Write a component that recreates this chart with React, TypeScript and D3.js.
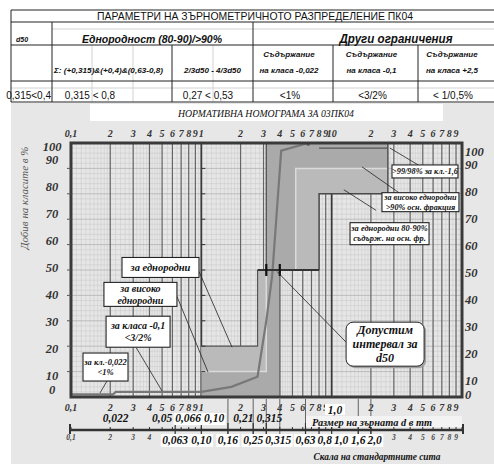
import * as d3 from "d3";
import { useEffect, useRef } from "react";

const W = 494;
const H = 464;

// ---- table ----
const tableTitle = "ПАРАМЕТРИ НА ЗЪРНОМЕТРИЧНОТО РАЗПРЕДЕЛЕНИЕ  ПК04";
const headD50 = "d50";
const headUniform = "Еднородност (80-90)/>90%";
const headOther = "Други ограничения";
const subHeads = [
  [],
  ["Σ: (+0,315)&(+0,4)&(0,63-0,8)"],
  ["2/3d50 - 4/3d50"],
  ["Съдържание", "на класа -0,022"],
  ["Съдържание", "на класа -0,1"],
  ["Съдържание", "на класа +2,5"],
];
const rowValues = ["0,315<0,4", "0,315 < 0,8", "0,27 < 0,53", "<1%", "<3/2%", "< 1/0,5%"];

// ---- nomogram ----
const chartTitle = "НОРМАТИВНА НОМОГРАМА ЗА  03ПК04";
const yTitle = "Добив на класите в %";
const xTitle = "Размер на зърната  d  в mm";
const sieveTitle = "Скала на стандартните сита";

const yTicks = [0, 10, 20, 30, 40, 50, 60, 70, 80, 90, 100];
const decadeLabels = [
  "0,1", "2", "3", "4", "5", "6", "7", "8", "9",
  "1", "2", "3", "4", "5", "6", "7", "8", "9",
  "10", "2", "3", "4", "5", "6", "7", "8", "9",
];
const sizeMarks = [0.022, 0.05, 0.066, 0.1, 0.21, 0.315];
const sizeMarkLabels = ["0,022", "0,05", "0,066", "0,10", "0,21", "0,315"];
const sieves = [0.063, 0.1, 0.16, 0.25, 0.315, 0.63, 0.8, 1.0, 1.6, 2.0];
const sieveLabels = ["0,063", "0,10", "0,16", "0,25", "0,315", "0,63", "0,8", "1,0", "1,6", "2,0"];
const sieveLong = [0.16, 0.25, 0.315, 0.4, 0.63, 1.6, 2.0];

// grading curve: size (mm) / passing (%)
const curveSize = [0.01, 0.021, 0.022, 0.1, 0.17, 0.27, 0.315, 0.35, 0.41, 0.66];
const curvePass = [1, 1, 2, 2, 4, 8, 30, 48, 97, 100];

// envelope zones [mm, %]
const upperZone = [[0.315, 100], [2.7, 100], [2.7, 80], [0.8, 80], [0.8, 50], [0.315, 50]];
const upperInner = [[0.53, 90], [2.7, 90], [2.7, 80], [0.8, 80], [0.8, 50], [0.53, 50]];
const lowerZone = [[0.1, 0], [0.4, 0], [0.4, 50], [0.27, 50], [0.27, 20], [0.1, 20]];
const lowerInner = [[0.1, 10], [0.315, 10], [0.315, 50], [0.27, 50], [0.27, 20], [0.1, 20]];
const d50Range = [0.27, 0.8];
const d50Marks = [0.315, 0.4];

const callouts = [
  { lines: ["за еднородни"], at: [0.0486, 51], w: 77, h: 20, fs: 10.5, from: [0.096, 49.4], to: [0.172, 19.6] },
  { lines: ["за високо", "еднородни"], at: [0.0341, 40.4], w: 73, h: 24, fs: 10, from: [0.065, 39.6], to: [0.1125, 9.8] },
  { lines: ["за класа -0,1", "<3/2%"], at: [0.0327, 25.7], w: 64, h: 31, fs: 10, from: [0.0315, 19.6], to: [0.0499, 2.4] },
  { lines: ["за кл.-0,022", "<1%"], at: [0.0184, 11.8], w: 45, h: 28, fs: 8.5, from: [0.0189, 6.3], to: [0.0167, 1.6] },
  { lines: [">99/98% за кл.-1,6"], at: [5.2, 88.8], w: 66, h: 13, fs: 8.3, from: [4.6, 91.4], to: [2.8, 98] },
  { lines: ["за високо еднородни", ">90% осн. фракция"], at: [4.8, 76.7], w: 77, h: 19, fs: 8.2, from: [3.29, 80.4], to: [1.71, 90.6] },
  { lines: ["за еднородни 80-90%", "съдърж. на осн. фр."], at: [2.78, 64.3], w: 79, h: 22, fs: 8.4, from: [2.19, 73.5], to: [1.24, 81.6] },
  { lines: ["Допустим", "интервал за", "d50"], at: [2.57, 20.8], w: 78, h: 44, fs: 12, from: [1.29, 21.6], to: [0.381, 49.4], round: true },
];

const serif = "Liberation Serif, Times New Roman, DejaVu Serif, serif";
const sans = "Liberation Sans, Arial, DejaVu Sans, sans-serif";

type TOpt = { fs: number; font?: string; weight?: string; italic?: boolean; anchor?: string; fill?: string; len?: number };

const App = () => {
  const ref = useRef<SVGSVGElement | null>(null);

  useEffect(() => {
    if (!ref.current) return;
    const svg = d3.select(ref.current);
    svg.selectAll("*").remove();

    const text = (g: any, x: number, y: number, s: string, o: TOpt) => {
      const t = g
        .append("text")
        .attr("x", x)
        .attr("y", y)
        .style("font-family", o.font ?? serif)
        .style("font-size", `${o.fs}px`)
        .style("font-weight", o.weight ?? "bold")
        .style("font-style", o.italic === false ? "normal" : "italic")
        .attr("text-anchor", o.anchor ?? "middle")
        .attr("fill", o.fill ?? "#111")
        .text(s);
      if (o.len) t.attr("textLength", o.len).attr("lengthAdjust", "spacingAndGlyphs");
      return t;
    };

    svg.append("rect").attr("width", W).attr("height", H).attr("fill", "#fff");

    // ================= table =================
    const cols = [11, 52, 172, 253, 333, 418, 494];
    const tg = svg.append("g");
    const faint = "#d2d2d2";
    const dark = "#222";
    const hline = (y: number, x1: number, x2: number, c: string) =>
      tg.append("line").attr("x1", x1).attr("x2", x2).attr("y1", y).attr("y2", y).attr("stroke", c).attr("stroke-width", 1);
    const vline = (x: number, y1: number, y2: number, c: string) =>
      tg.append("line").attr("x1", x).attr("x2", x).attr("y1", y1).attr("y2", y2).attr("stroke", c).attr("stroke-width", 1);

    hline(29, 52, 494, faint);
    hline(88, 11, 494, faint);
    [92, 133, 213].forEach((x) => vline(x, 45, 102, faint));

    hline(10, 11, 494, dark);
    hline(22, 11, 494, dark);
    hline(45, 11, 494, dark);
    hline(81, 11, 494, dark);
    hline(102, 11, 494, dark);
    vline(11, 10, 102, dark);
    vline(52, 22, 102, dark);
    vline(253, 22, 102, dark);
    [172, 333, 418].forEach((x) => vline(x, 45, 102, dark));

    text(tg, 255, 20, tableTitle, { fs: 11, font: sans, weight: "normal", italic: false, len: 316 });
    text(tg, 16, 42, headD50, { fs: 7, font: sans, anchor: "start" });
    text(tg, 152, 43, headUniform, { fs: 11.5, font: sans, len: 140 });
    text(tg, 396, 43, headOther, { fs: 12, font: sans, len: 113 });

    subHeads.forEach((lines, i) => {
      const cx = (cols[i] + cols[i + 1]) / 2;
      if (lines.length === 1) {
        if (i === 1) text(tg, 54, 73, lines[0], { fs: 8, font: sans, anchor: "start", len: 109 });
        else text(tg, cx, 73, lines[0], { fs: 8, font: sans });
      } else if (lines.length === 2) {
        text(tg, cx - 4, 57, lines[0], { fs: 8, font: sans, weight: "900" });
        text(tg, cx - 4, 73, lines[1], { fs: 8, font: sans, weight: "900" });
      }
    });

    rowValues.forEach((s, i) => {
      if (i === 0) text(tg, 51, 99, s, { fs: 10, font: sans, weight: "normal", italic: false, anchor: "end" });
      else {
        const cx = i === 1 ? 90 : i === 2 ? 208 : (cols[i] + cols[i + 1]) / 2 - 3;
        text(tg, cx, 99, s, { fs: 10, font: sans, weight: "normal", italic: false });
      }
    });

    // ================= nomogram =================
    svg.append("rect").attr("x", 11).attr("y", 103).attr("width", W - 11).attr("height", H - 103).attr("fill", "#e7e7e7");

    svg.append("rect").attr("x", 90).attr("y", 104).attr("width", 353).attr("height", 17).attr("fill", "#fff");
    text(svg, 266, 117, chartTitle, { fs: 11, weight: "normal", len: 176 });

    const x = d3.scaleLog().domain([0.01, 10]).range([71, 462]);
    const y = d3.scaleLinear().domain([0, 100]).range([397, 143]);
    const yLab = d3.scaleLinear().domain([0, 10, 90, 100]).range([390, 376, 160, 147]);
    const [x0, x1] = x.range();
    const [yb, yt] = y.range();

    const pg = svg.append("g");
    pg.append("rect").attr("x", x0).attr("y", yt).attr("width", x1 - x0).attr("height", yb - yt).attr("fill", "#e6e6e6");

    // fine grid of the log paper
    const minor: number[] = [];
    [0.01, 0.1, 1].forEach((b) => {
      d3.range(1, 2, 0.1).forEach((k) => minor.push(k * b));
      d3.range(2, 5, 0.2).forEach((k) => minor.push(k * b));
      d3.range(5, 10, 0.5).forEach((k) => minor.push(k * b));
    });
    pg.selectAll(".vmin")
      .data(minor)
      .join("line")
      .attr("x1", (d) => x(d))
      .attr("x2", (d) => x(d))
      .attr("y1", yt)
      .attr("y2", yb)
      .attr("stroke", "#cdcdcd")
      .attr("stroke-width", 0.6);
    pg.selectAll(".hmin")
      .data(d3.range(0, 101, 2))
      .join("line")
      .attr("x1", x0)
      .attr("x2", x1)
      .attr("y1", (d) => y(d))
      .attr("y2", (d) => y(d))
      .attr("stroke", (d) => (d % 10 === 0 ? "#b2b2b2" : "#cbcbcb"))
      .attr("stroke-width", (d) => (d % 10 === 0 ? 0.8 : 0.6));

    const majors = x.ticks();
    const isDecade = (d: number) => Math.abs(Math.log10(d) - Math.round(Math.log10(d))) < 1e-6;
    pg.selectAll(".vmaj")
      .data(majors)
      .join("line")
      .attr("x1", (d) => x(d))
      .attr("x2", (d) => x(d))
      .attr("y1", yt)
      .attr("y2", yb)
      .attr("stroke", (d) => (isDecade(d) ? "#3a3a3a" : "#666"))
      .attr("stroke-width", (d) => (isDecade(d) ? 1.8 : 1.2));

    // zones
    const lineGen = d3.line().x((p: any) => x(p[0])).y((p: any) => y(p[1]));
    const area = (pts: number[][]) => lineGen(pts as any) + "Z";
    pg.append("path").attr("d", area(upperZone)).attr("fill", "#aaaaaa");
    pg.append("path").attr("d", area(upperInner)).attr("fill", "#bababa");
    pg.append("path").attr("d", area(lowerZone)).attr("fill", "#aaaaaa");
    pg.append("path").attr("d", area(lowerInner)).attr("fill", "#bababa");
    const seg = (pts: number[][], c: string, w: number) =>
      pg.append("path").attr("d", lineGen(pts as any)).attr("fill", "none").attr("stroke", c).attr("stroke-width", w);
    seg([upperInner[5], upperInner[0], upperInner[1]], "#dadada", 1.5);
    seg([lowerInner[0], lowerInner[1], lowerInner[2]], "#dadada", 1.5);
    seg([upperZone[5], upperZone[0]], "#555", 1.4);
    seg([upperZone[1], upperZone[2], upperZone[3], upperZone[4]], "#4a4a4a", 1.4);
    seg([[upperZone[3][0], 98], [upperZone[1][0], 98]], "#555", 1.4);
    seg([lowerZone[3], lowerZone[4], lowerZone[5]], "#555", 1.2);
    seg([lowerZone[1], lowerZone[2]], "#666", 1.1);

    // grading curve
    const curvePts = curveSize.map((s, i) => [s, curvePass[i]]);
    pg.append("path").attr("d", lineGen(curvePts as any)).attr("fill", "none").attr("stroke", "#787878").attr("stroke-width", 2.2);
    pg.append("circle")
      .attr("cx", x(curveSize[curveSize.length - 1]))
      .attr("cy", y(curvePass[curvePass.length - 1]) + 1)
      .attr("r", 2)
      .attr("fill", "#666");

    // d50 interval
    pg.append("line")
      .attr("x1", x(d50Range[0]))
      .attr("x2", x(d50Range[1]))
      .attr("y1", y(50))
      .attr("y2", y(50))
      .attr("stroke", "#333")
      .attr("stroke-width", 2);
    d50Marks.forEach((m) =>
      pg.append("line").attr("x1", x(m)).attr("x2", x(m)).attr("y1", y(50) - 6).attr("y2", y(50) + 6).attr("stroke", "#111").attr("stroke-width", 2.2)
    );

    // frame + side ticks
    pg.append("rect").attr("x", x0).attr("y", yt).attr("width", x1 - x0).attr("height", yb - yt).attr("fill", "none").attr("stroke", "#3a3a3a").attr("stroke-width", 3);
    yTicks.slice(1, -1).forEach((v) => {
      pg.append("line").attr("x1", x0 - 4).attr("x2", x0).attr("y1", y(v)).attr("y2", y(v)).attr("stroke", "#555");
      pg.append("line").attr("x1", x(0.1)).attr("x2", x(0.1) + 4).attr("y1", y(v)).attr("y2", y(v)).attr("stroke", "#333");
    });

    // callouts
    const cg = svg.append("g");
    callouts.forEach((c) => {
      cg.append("line")
        .attr("x1", x(c.from[0]))
        .attr("y1", y(c.from[1]))
        .attr("x2", x(c.to[0]))
        .attr("y2", y(c.to[1]))
        .attr("stroke", "#222")
        .attr("stroke-width", 0.8);
    });
    callouts.forEach((c) => {
      const cx = x(c.at[0]);
      const cy = y(c.at[1]);
      if (c.round) {
        cg.append("rect").attr("x", cx - c.w / 2 + 2).attr("y", cy - c.h / 2 + 2).attr("width", c.w).attr("height", c.h).attr("rx", 7).attr("fill", "#a0a0a0");
      }
      cg.append("rect")
        .attr("x", cx - c.w / 2)
        .attr("y", cy - c.h / 2)
        .attr("width", c.w)
        .attr("height", c.h)
        .attr("rx", c.round ? 7 : 0)
        .attr("fill", "#fff")
        .attr("stroke", "#222")
        .attr("stroke-width", c.round ? 1 : 1.1);
      const lh = c.fs * 1.18;
      c.lines.forEach((s, i) => {
        const ly = cy + (i - (c.lines.length - 1) / 2) * lh + c.fs * 0.33;
        text(cg, cx, ly, s, { fs: c.fs });
      });
    });

    // y labels
    const ag = svg.append("g");
    yTicks.forEach((v) => {
      text(ag, 52, yLab(v) + 4.3, String(v), { fs: 12.5, fill: "#333" });
      text(ag, 465, yLab(v) + 9.3, String(v), { fs: 12.5, fill: "#333", anchor: "start" });
    });
    text(ag, 0, 0, yTitle, { fs: 11, weight: "normal", fill: "#555" }).attr("transform", "translate(28,198) rotate(-90)");

    // top and bottom decade labels
    const ticksLab = majors.filter((t) => t < 10);
    ticksLab.forEach((t, i) => {
      text(ag, x(t), 137, decadeLabels[i], { fs: 10, fill: "#333" });
      text(ag, x(t), 411, decadeLabels[i], { fs: 10, fill: "#333" });
    });

    // marks of grain sizes
    const spread = (nodes: SVGTextElement[], gap: number) => {
      let prev = -Infinity;
      nodes.forEach((n) => {
        const w = n.getComputedTextLength();
        let cx = +n.getAttribute("x")!;
        if (cx - w / 2 < prev + gap) cx = prev + gap + w / 2;
        n.setAttribute("x", String(cx));
        prev = cx + w / 2;
      });
    };
    const boxes = (g: any, nodes: SVGTextElement[], yTop: number, hh: number) => {
      nodes.forEach((n) => {
        const w = n.getComputedTextLength();
        g.append("rect").attr("x", +n.getAttribute("x")! - w / 2 - 1.5).attr("y", yTop).attr("width", w + 3).attr("height", hh).attr("fill", "#fff");
      });
    };

    const sg = svg.append("g");
    sieveLong.forEach((s) =>
      sg.append("line").attr("x1", x(s)).attr("x2", x(s)).attr("y1", 399).attr("y2", 434).attr("stroke", "#555").attr("stroke-width", 0.9)
    );
    sieves.forEach((s) =>
      sg.append("line").attr("x1", x(s)).attr("x2", x(s)).attr("y1", 423).attr("y2", 434).attr("stroke", "#333").attr("stroke-width", 1.2)
    );

    const markBox = sg.append("g");
    const markTxt = sg.append("g");
    const marks = sizeMarks.map((m, i) => text(markTxt, x(m), 422, sizeMarkLabels[i], { fs: 11.5 }).node() as SVGTextElement);
    spread(marks, 3);
    boxes(markBox, marks.slice(2, 4), 413, 12);

    sg.append("rect").attr("x", 325).attr("y", 404).attr("width", 20).attr("height", 11).attr("fill", "#fff");
    text(sg, 335, 414, "1,0", { fs: 11.5 });

    sg.append("rect").attr("x", 306).attr("y", 416).attr("width", 156).attr("height", 11).attr("fill", "#f3f3f3");
    text(sg, 312, 425.5, xTitle, { fs: 11, anchor: "start", len: 120 });

    // sieve scale
    sg.append("line").attr("x1", x0 - 1).attr("x2", x1 + 1).attr("y1", 430).attr("y2", 430).attr("stroke", "#333").attr("stroke-width", 2.5);
    [x0 - 1, x1 + 1].forEach((px) =>
      sg.append("line").attr("x1", px).attr("x2", px).attr("y1", 424).attr("y2", 434).attr("stroke", "#333").attr("stroke-width", 2)
    );
    majors.forEach((t) =>
      sg.append("line").attr("x1", x(t)).attr("x2", x(t)).attr("y1", 427).attr("y2", 430).attr("stroke", "#333").attr("stroke-width", 1)
    );

    const sSmall = sg.append("g");
    const sBox = sg.append("g");
    const sTxt = sg.append("g");
    const sNodes = sieves.map((s, i) => text(sTxt, x(s), 444, sieveLabels[i], { fs: 11.5 }).node() as SVGTextElement);
    spread(sNodes, 2);
    boxes(sBox, sNodes, 434, 13);
    const covered = sNodes.map((n) => {
      const w = n.getComputedTextLength();
      const c = +n.getAttribute("x")!;
      return [c - w / 2 - 4, c + w / 2 + 4];
    });
    ticksLab.forEach((t, i) => {
      const px = x(t);
      if (covered.some(([a, b]) => px > a && px < b)) return;
      text(sSmall, px, 440, decadeLabels[i], { fs: 7.5, fill: "#444" });
    });

    text(sg, 377, 460, sieveTitle, { fs: 11, anchor: "middle", len: 127 });
  }, []);

  return (
    <div style={{ position: "absolute", left: 0, top: 0 }}>
      <svg ref={ref} width={W} height={H} style={{ display: "block" }} />
    </div>
  );
};

export default App;
